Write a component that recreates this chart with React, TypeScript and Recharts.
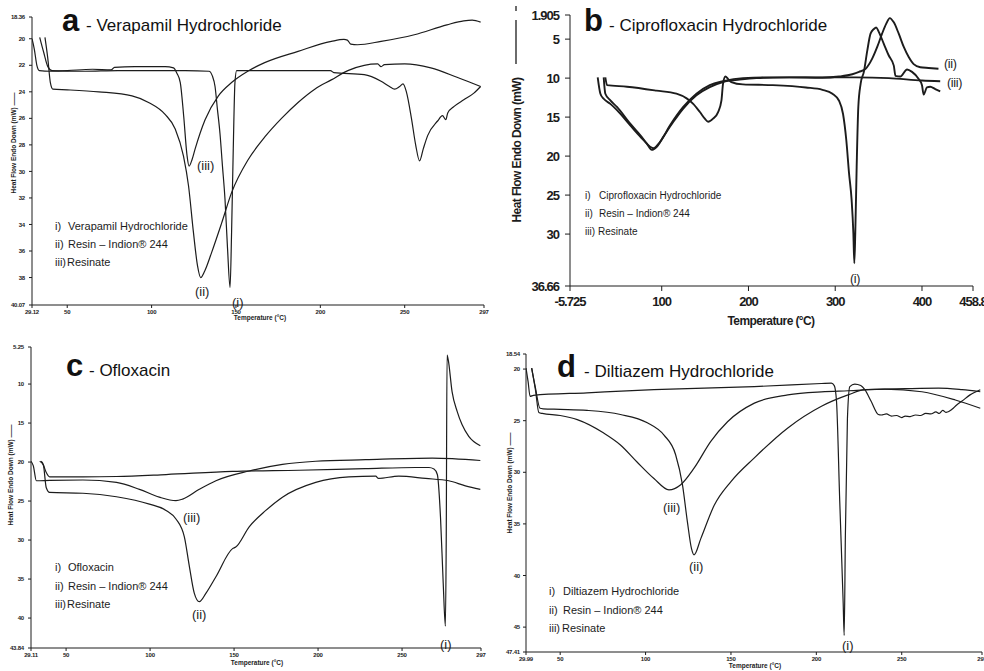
import React from 'react'
import { LineChart, Line, XAxis, YAxis } from 'recharts'

type Pt = [number, number]

const FONT = '"Liberation Sans", Arial, Helvetica, sans-serif'
const INK = '#1c1c1c'

// a - Verapamil Hydrochloride
const aXTicks = [29.12, 50, 100, 150, 200, 250, 297]
const aYTicks = [18.36, 20, 22, 24, 26, 28, 30, 32, 34, 36, 38, 40.07]
const aDrug: Pt[] = [
  [33.7, 19.9], [36, 21], [38.5, 22.1], [41, 22.4], [60, 22.45], [80, 22.4], [100, 22.4], [120, 22.4],
  [134, 22.45], [136, 22.8], [137.6, 23.6], [139, 25.3], [140.5, 27.1], [142, 29.6], [143.5, 32.1],
  [145, 35.8], [146.5, 38.75], [147.4, 34.6], [148.4, 28.3], [149.4, 23.3], [150.4, 22.4], [170, 22.4],
  [190, 22.4], [206, 22.4], [208, 22.55], [226, 22.7], [236, 23.2], [241, 23.6], [244, 23.8], [247, 23.6],
  [249, 23.4], [251, 24.0], [254, 26.0], [256.5, 28.0], [258.8, 29.2], [261, 28.3], [263.6, 27.3],
  [269.5, 26.2], [272.4, 25.8], [274.4, 26.1], [275.5, 25.6], [279.3, 25.1], [285, 24.6], [291, 24.1], [295, 23.6],
]
const aResin: Pt[] = [
  [36.8, 19.9], [38.5, 21.5], [40, 23.3], [41.5, 23.8], [50, 23.85], [68.7, 24.0], [88.4, 24.3], [98.2, 24.8],
  [108, 25.7], [114, 26.8], [118.9, 28.85], [121.9, 31.1], [124.8, 34.6], [127.2, 37.1], [129.1, 38.0],
  [131.5, 37.5], [135.6, 36.1], [141.5, 33.9], [147.4, 31.6], [157.3, 29.1], [167.1, 27.4], [177, 26.0],
  [186.8, 24.8], [196.7, 23.8], [206.5, 23.1], [216.3, 22.4], [226, 22.0], [234, 21.9], [236, 22.1],
  [238, 21.95], [250, 21.9], [265.5, 22.2], [281, 22.9], [295, 23.6],
]
const aResinate: Pt[] = [
  [29.12, 20], [30.5, 20.8], [32, 22], [33.5, 22.4], [40, 22.45], [50, 22.4], [65, 22.3], [76, 22.35],
  [78, 22.15], [90, 22.1], [108, 22.1], [113, 22.2], [115, 22.6], [117, 23.3], [119, 25.8], [121, 28.8],
  [122.2, 29.6], [124, 29.1], [125.8, 28.3], [131.7, 26.1], [139.6, 24.3], [147.4, 23.3], [157, 22.45],
  [167, 21.8], [186.8, 20.95], [206.5, 20.2], [214, 20.05], [216, 20.1], [218, 20.4], [222, 20.45],
  [236, 20.2], [255.7, 19.7], [275, 18.95], [285, 18.65], [290, 18.6], [295, 18.75],
]

// b - Ciprofloxacin Hydrochloride
const bXTicks = [-5.725, 100, 200, 300, 400, 458.8]
const bYTicks = [1.905, 5, 10, 15, 20, 25, 30, 36.66]
const bDrug: Pt[] = [
  [35, 9.9], [37, 10.9], [60, 11.1], [94, 11.6], [117, 12.0], [128.7, 12.6], [136.3, 13.3], [144, 14.35],
  [149.7, 15.2], [153.5, 15.6], [159.2, 15.2], [165, 14.35], [168.8, 12.9], [170.7, 10.7], [173.4, 9.8],
  [176.4, 10.1], [180.2, 10.5], [193.6, 10.8], [228, 10.9], [266.2, 11.2], [285.3, 11.5], [296.8, 12.0],
  [304.4, 12.9], [309, 14.6], [312.8, 18.0], [315.9, 22.2], [318.9, 25.65], [320.9, 29.9], [322, 33.75],
  [323.1, 29.9], [324.7, 21.4], [326.6, 13.7], [329.3, 10.7], [333, 9.2], [336.9, 6.5], [340.7, 4.3],
  [344.6, 3.7], [347.2, 3.5], [350.3, 4.1], [356, 5.6], [361.7, 7.1], [367.5, 8.4], [369.4, 9.7],
  [375, 9.8], [382.8, 8.9], [388.5, 9.2], [396.2, 10.1], [400, 10.9], [401.9, 12.1], [405.7, 11.2],
  [409.5, 11.1], [415.3, 11.4], [421, 11.7],
]
const bResin: Pt[] = [
  [26.2, 9.9], [29.3, 12.0], [33.1, 12.65], [40.8, 13.3], [48.4, 14.1], [63.7, 16.05], [75.2, 17.5],
  [82.8, 18.4], [88.5, 19.2], [94.3, 18.8], [102, 17.5], [113.4, 15.6], [124.8, 13.9], [140, 12.2],
  [155.4, 11.15], [170.7, 10.5], [189.8, 10.2], [209, 10.0], [247, 9.9], [285, 9.95], [304.4, 9.8],
  [319.7, 9.5], [327.4, 9.2], [335, 8.8], [342.6, 7.5], [348.4, 6.0], [354, 4.3], [358.7, 3.05],
  [362.9, 2.3], [367.5, 2.85], [373.2, 4.3], [379, 6.0], [384.7, 7.3], [390.4, 8.2], [398, 8.6],
  [407.6, 8.7], [419, 8.8],
]
const bResinate: Pt[] = [
  [33.1, 9.9], [35, 12.0], [40.8, 12.85], [48.4, 13.7], [63.7, 15.85], [75.2, 17.3], [86.6, 18.8],
  [90.4, 19.0], [98, 18.2], [109.6, 16.05], [124.8, 13.7], [140, 12.0], [155.4, 10.9], [170.7, 10.4],
  [193.6, 10.0], [228, 9.9], [285, 9.9], [323.5, 9.9], [361.7, 10.0], [400, 10.3], [421, 10.4],
]

// c - Ofloxacin
const cXTicks = [29.11, 50, 100, 150, 200, 250, 297]
const cYTicks = [5.25, 10, 15, 20, 25, 30, 35, 40, 43.84]
const cDrug: Pt[] = [
  [34.3, 19.9], [36.3, 20.3], [38.2, 21.35], [40.2, 21.9], [60, 21.9], [80, 21.85], [109.5, 21.6],
  [149, 21.2], [188.7, 21.05], [228, 20.85], [258, 20.7], [266, 20.7], [269, 20.9], [271, 21.6],
  [272.9, 27.1], [274.5, 35.5], [275.8, 41.05], [276.3, 30], [276.8, 6.3], [277.5, 6.9], [279.8, 11],
  [282.8, 13.5], [285.7, 15.2], [289.7, 16.7], [296.6, 17.9],
]
const cResin: Pt[] = [
  [35.2, 19.9], [36.5, 20.4], [38.2, 23.3], [40.2, 23.9], [60, 24.0], [80, 24.45], [99.6, 25.4],
  [109.5, 26.2], [115.4, 27.3], [120.4, 29.6], [123.4, 33.4], [126.3, 36.8], [129.3, 37.9], [133.3, 36.8],
  [139.2, 34.7], [149.1, 31.1], [151, 30.9], [159, 28.3], [168.9, 26.2], [178.8, 24.5], [198.6, 22.6],
  [218.4, 21.9], [234.3, 21.8], [236, 22.1], [248, 21.8], [264, 22.1], [277.8, 22.4], [287.7, 23.05], [296.6, 23.5],
]
const cResinate: Pt[] = [
  [29.11, 19.9], [30.5, 20.5], [32.3, 22.4], [40.2, 22.35], [60, 22.3], [80, 22.6], [93.7, 23.5],
  [105.5, 24.5], [115.4, 24.95], [119.4, 24.75], [129.3, 23.5], [139.2, 22.4], [159, 21.15], [178.8, 20.3],
  [198.6, 19.9], [228.3, 19.7], [268, 19.5], [296.6, 19.8],
]

// d - Diltiazem Hydrochloride
const dXTicks = [29.99, 50, 100, 150, 200, 250, 297]
const dYTicks = [18.54, 20, 25, 30, 35, 40, 45, 47.41]
const dDrug: Pt[] = [
  [29.99, 19.9], [31.2, 21.2], [32.4, 22.65], [34.3, 22.55], [65.7, 22.3], [104.9, 22.0], [163.7, 21.7],
  [203, 21.4], [208.8, 21.36], [210.5, 21.6], [211.8, 23.1], [213.7, 32.8], [215.7, 42.6], [216.3, 45.8],
  [217, 36.1], [218.2, 24.8], [219.6, 21.7], [222.5, 21.45], [226, 21.6], [228.4, 22.0], [232, 23.1],
  [236.3, 24.4], [238, 24.45], [241, 24.35], [244, 24.55], [247, 24.5], [250, 24.7], [252, 24.55],
  [255, 24.6], [258, 24.45], [261, 24.5], [264, 24.3], [267, 24.35], [270, 24.15], [272, 24.3],
  [274, 24.0], [276, 24.2], [279.4, 23.9], [282, 23.5], [285.3, 23.1], [290, 22.5], [296, 22.0],
]
const dResin: Pt[] = [
  [33.3, 19.9], [35.5, 21.8], [38.2, 23.8], [40, 23.85], [50, 23.9], [65.7, 24.0], [85.3, 24.4],
  [101, 25.2], [110.8, 26.4], [117.6, 28.3], [121.6, 31.2], [124.5, 34.8], [126.9, 37.4], [128.4, 38.0],
  [132.4, 36.4], [140.2, 33.2], [150, 30.9], [163.7, 28.6], [183.3, 25.7], [203, 23.6], [218.6, 22.5],
  [228.4, 22.0], [252, 21.9], [271.6, 21.85], [285.3, 22.0], [296, 22.2],
]
const dResinate: Pt[] = [
  [33.3, 19.9], [35.5, 22.0], [37.5, 24.2], [39.5, 24.3], [50, 24.5], [60, 24.9], [75.5, 26.2],
  [85.3, 27.35], [95, 29.0], [104.9, 30.6], [113.7, 31.7], [120.6, 31.2], [128.4, 29.6], [138.2, 27.0],
  [148, 25.1], [163.7, 23.3], [183.3, 22.5], [203, 22.2], [218.6, 22.1], [240, 21.95], [261.8, 22.2],
  [281.4, 23.0], [296, 23.8],
]

const toRows = (pts: Pt[]) => pts.map(([t, v]) => ({ t, v }))

interface PanelProps {
  left: number
  top: number
  width: number
  height: number
  margin: { top: number; right: number; bottom: number; left: number }
  yWidth: number
  xHeight: number
  xDomain: [number, number]
  yDomain: [number, number]
  xTicks: number[]
  yTicks: number[]
  series: Pt[][]
  tickFont: number
  tickSize: number
  xTickMargin: number
  yTickMargin: number
  lineWidth: number
  spacing?: number
}

function DscPanel(p: PanelProps) {
  const tick = {
    fontSize: p.tickFont,
    fontWeight: 700,
    fill: INK,
    fontFamily: FONT,
    letterSpacing: p.spacing ?? -0.2,
  }
  return (
    <div style={{ position: 'absolute', left: p.left, top: p.top }}>
      <LineChart width={p.width} height={p.height} margin={p.margin}>
        <XAxis
          type="number"
          dataKey="t"
          domain={p.xDomain}
          ticks={p.xTicks}
          interval={0}
          allowDataOverflow
          height={p.xHeight}
          tick={tick}
          tickSize={p.tickSize}
          tickMargin={p.xTickMargin}
          stroke={INK}
          tickFormatter={(v: number) => String(v)}
        />
        <YAxis
          type="number"
          domain={p.yDomain}
          ticks={p.yTicks}
          interval={0}
          reversed
          allowDataOverflow
          width={p.yWidth}
          tick={tick}
          tickSize={p.tickSize}
          tickMargin={p.yTickMargin}
          stroke={INK}
          tickFormatter={(v: number) => String(v)}
        />
        {p.series.map((s, i) => (
          <Line
            key={i}
            data={toRows(s)}
            dataKey="v"
            type="monotone"
            stroke={INK}
            strokeWidth={p.lineWidth}
            dot={false}
            activeDot={false}
            isAnimationActive={false}
          />
        ))}
      </LineChart>
    </div>
  )
}

function Legend({ x, tx, ys, name, size }: { x: number; tx: number; ys: number[]; name: string; size: number }) {
  const rows = [
    ['i)', name],
    ['ii)', 'Resin \u2013 Indion\u00ae 244'],
    ['iii)', 'Resinate'],
  ]
  return (
    <g fontSize={size} fill={INK}>
      {rows.map(([m, label], i) => (
        <g key={i}>
          <text x={x} y={ys[i]}>{m}</text>
          <text x={i === 2 ? tx - 1 : tx} y={ys[i]}>{label}</text>
        </g>
      ))}
    </g>
  )
}

function Title({ x, gap, y, letter, text }: { x: number; gap: number; y: number; letter: string; text: string }) {
  return (
    <g fill="#111">
      <text x={x} y={y} fontSize={31} fontWeight={700}>{letter}</text>
      <text x={x + gap} y={y} fontSize={17}>{'- ' + text}</text>
    </g>
  )
}

function SmallAxisLabels({ yx, yy, tx, ty }: { yx: number; yy: number; tx: number; ty: number }) {
  return (
    <g fill={INK} fontWeight={700} fontSize={6.5}>
      <text transform={`translate(${yx},${yy}) rotate(-90)`} textAnchor="middle">
        Heat Flow Endo Down (mW) ——
      </text>
      <text x={tx} y={ty} textAnchor="middle">Temperature (°C)</text>
    </g>
  )
}

export default function App() {
  return (
    <div
      style={{
        position: 'absolute',
        left: 0,
        top: 0,
        width: 984,
        height: 671,
        overflow: 'hidden',
        background: '#fff',
        fontFamily: FONT,
      }}
    >
      <DscPanel
        left={0} top={0} width={490} height={330}
        margin={{ top: 17, right: 6, bottom: 5, left: 0 }}
        yWidth={32} xHeight={20}
        xDomain={[29.12, 297]} yDomain={[18.36, 40.07]}
        xTicks={aXTicks} yTicks={aYTicks}
        series={[aDrug, aResin, aResinate]}
        tickFont={6} tickSize={3} xTickMargin={2} yTickMargin={4} lineWidth={1.2}
      />
      <DscPanel
        left={490} top={0} width={494} height={330}
        margin={{ top: 15, right: 11, bottom: 14, left: 0 }}
        yWidth={80} xHeight={30}
        xDomain={[-5.725, 458.8]} yDomain={[1.905, 36.66]}
        xTicks={bXTicks} yTicks={bYTicks}
        series={[bDrug, bResin, bResinate]}
        tickFont={13} tickSize={5} xTickMargin={6} yTickMargin={6} lineWidth={1.9} spacing={-1}
      />
      <DscPanel
        left={0} top={335} width={490} height={336}
        margin={{ top: 12, right: 9, bottom: 5, left: 0 }}
        yWidth={31} xHeight={18}
        xDomain={[29.11, 297]} yDomain={[5.25, 43.84]}
        xTicks={cXTicks} yTicks={cYTicks}
        series={[cDrug, cResin, cResinate]}
        tickFont={6} tickSize={3} xTickMargin={2} yTickMargin={4} lineWidth={1.2}
      />
      <DscPanel
        left={490} top={335} width={494} height={336}
        margin={{ top: 19, right: 2, bottom: 4, left: 0 }}
        yWidth={36} xHeight={15}
        xDomain={[29.99, 297]} yDomain={[18.54, 47.41]}
        xTicks={dXTicks} yTicks={dYTicks}
        series={[dDrug, dResin, dResinate]}
        tickFont={6} tickSize={3} xTickMargin={2} yTickMargin={3} lineWidth={1.2}
      />

      <svg
        width={984}
        height={671}
        style={{ position: 'absolute', left: 0, top: 0, pointerEvents: 'none' }}
        fontFamily={FONT}
      >
        {/* panel a */}
        <Title x={62} gap={24} y={31} letter="a" text="Verapamil Hydrochloride" />
        <Legend x={55} tx={68} ys={[230, 248, 266]} name="Verapamil Hydrochloride" size={11} />
        <g fontSize={13} fill={INK}>
          <text x={197} y={170}>(iii)</text>
          <text x={195} y={296}>(ii)</text>
          <text x={232} y={307}>(i)</text>
        </g>
        <SmallAxisLabels yx={16} yy={143} tx={260} ty={320} />

        {/* panel b */}
        <Title x={584} gap={25} y={31} letter="b" text="Ciprofloxacin Hydrochloride" />
        <Legend x={585} tx={599} ys={[199, 217, 235]} name="Ciprofloxacin Hydrochloride" size={10} />
        <g fontSize={12.5} fill={INK} letterSpacing={-0.3}>
          <text x={944} y={68}>(ii)</text>
          <text x={947} y={87}>(iii)</text>
          <text x={850} y={283}>(i)</text>
        </g>
        <g fill={INK} fontWeight={700} fontSize={12} letterSpacing={-0.6}>
          <text transform="translate(521,150) rotate(-90)" textAnchor="middle">
            Heat Flow Endo Down (mW)
          </text>
          <text x={771} y={325} textAnchor="middle">Temperature (°C)</text>
        </g>
        <line x1={516} y1={20} x2={516} y2={64} stroke={INK} strokeWidth={1.3} />
        <line x1={516} y1={6} x2={516} y2={11} stroke={INK} strokeWidth={1.3} />

        {/* panel c */}
        <Title x={66} gap={23} y={376} letter="c" text="Ofloxacin" />
        <Legend x={55} tx={68} ys={[571, 590, 608]} name="Ofloxacin" size={11} />
        <g fontSize={13} fill={INK}>
          <text x={183} y={522}>(iii)</text>
          <text x={192} y={619}>(ii)</text>
          <text x={440} y={649}>(i)</text>
        </g>
        <SmallAxisLabels yx={13} yy={475} tx={257} ty={665} />

        {/* panel d */}
        <Title x={557} gap={27} y={377} letter="d" text="Diltiazem Hydrochloride" />
        <Legend x={549} tx={563} ys={[595, 614, 632]} name="Diltiazem Hydrochloride" size={11} />
        <g fontSize={13} fill={INK}>
          <text x={663} y={512}>(iii)</text>
          <text x={689} y={571}>(ii)</text>
          <text x={842} y={650}>(i)</text>
        </g>
        <SmallAxisLabels yx={512} yy={483} tx={755} ty={668} />
      </svg>
    </div>
  )
}
